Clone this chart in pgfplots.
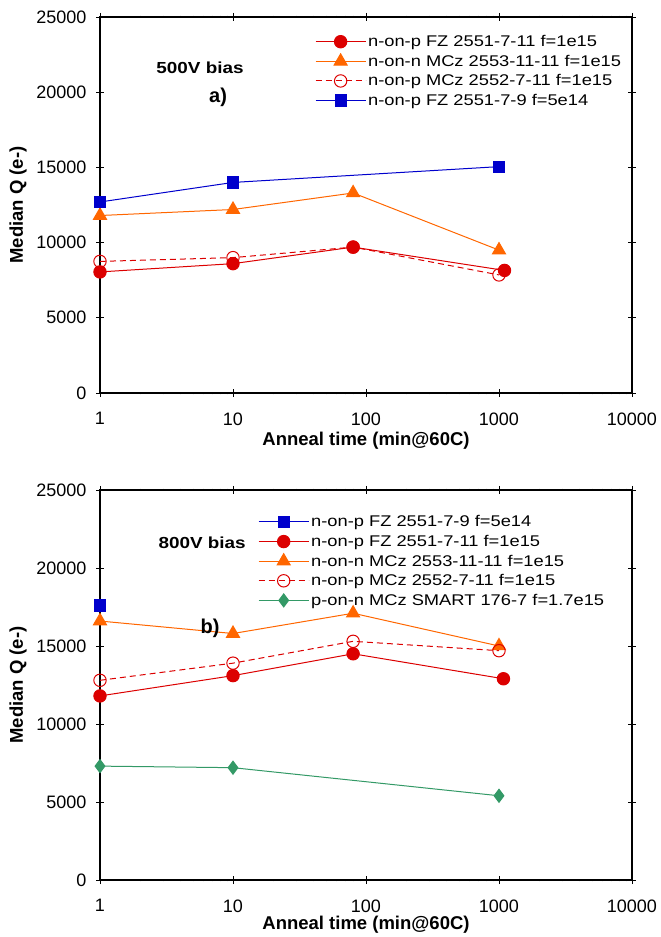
\documentclass[border=0pt]{standalone}
\usepackage{fontspec}
\setmainfont{Liberation Sans}
\newfontfamily\legfont{Liberation Sans}[FakeStretch=1.18]
\usepackage{pgfplots}
\pgfplotsset{compat=1.18}

\definecolor{cred}{RGB}{220,0,0}
\definecolor{corange}{RGB}{255,102,0}
\definecolor{cblue}{RGB}{0,0,204}
\definecolor{cgreen}{RGB}{51,153,102}

\pgfplotsset{
  legend image code/.code={%
    \draw[mark repeat=2,mark phase=2,#1] plot coordinates {(0pt,0pt)(25pt,0pt)(50pt,0pt)};},
  sred/.style={cred, line width=1pt, mark=*, mark size=6.2pt, mark options={solid, fill=cred}},
  sorange/.style={corange, line width=1pt, mark=triangle*, mark size=7.5pt, mark options={solid, fill=corange}},
  sdash/.style={cred, line width=1pt, dash pattern=on 6pt off 4pt, mark=o, mark size=6.2pt, mark options={solid, fill=white}},
  sblue/.style={cblue, line width=1pt, mark=square*, mark size=5.6pt, mark options={solid, fill=cblue}},
  sgreen/.style={cgreen, line width=1pt, mark=diamond*, mark size=6.5pt, mark options={solid, fill=cgreen}},
}

\begin{document}
\begin{tikzpicture}
\useasboundingbox (0,0) rectangle (661pt,937pt);

% a) 500V bias
\begin{axis}[
  scale only axis, width=532pt, height=376pt, at={(100pt,544pt)}, anchor=south west,
  xmode=log, xmin=1, xmax=10000, ymin=0, ymax=25000,
  xtick={1,10,100,1000,10000}, xticklabels={1,10,100,1000,10000},
  ytick={0,5000,10000,15000,20000,25000},
  scaled y ticks=false,
  /pgf/number format/assume math mode=true,
  yticklabel style={/pgf/number format/1000 sep={}},
  xticklabel shift=12pt, yticklabel shift=6pt,
  tick align=center, major tick length=8pt,
  tick style={black, line width=0.7pt},
  axis line style={line width=1.4pt},
  ticklabel style={font=\fontsize{18}{21}\selectfont},
  xlabel style={font=\fontsize{18.5}{22}\selectfont\bfseries,
    at={(axis description cs:0.5,-0.128)}, anchor=center},
  ylabel style={font=\fontsize{18.5}{22}\selectfont\bfseries,
    at={(axis description cs:-0.154,0.5)}, anchor=center},
  xlabel={Anneal time (min@60C)}, ylabel={Median Q (e-)},
  legend cell align=left,
  legend style={draw=none, fill=none, font=\legfont\fontsize{15.5}{18}\selectfont,
    anchor=north west, row sep=2.9pt, inner sep=0pt, at={(0.404,0.957)}},
  ]
  \addplot[sred] coordinates {(1,8050)(10,8600)(80,9700)(1100,8150)};
  \addplot[sorange] coordinates {(1,11800)(10,12200)(80,13300)(1000,9500)};
  \addplot[sdash] coordinates {(1,8750)(10,9000)(80,9700)(1000,7850)};
  \addplot[sblue] coordinates {(1,12700)(10,14000)(1000,15050)};
  \legend{n-on-p FZ 2551-7-11 f=1e15, n-on-n MCz 2553-11-11 f=1e15,
    n-on-p MCz 2552-7-11 f=1e15, n-on-p FZ 2551-7-9 f=5e14}
  \node[font=\legfont\fontsize{16}{19}\selectfont\bfseries] at (rel axis cs:0.188,0.864) {500V bias};
  \node[font=\fontsize{20}{24}\selectfont\bfseries] at (rel axis cs:0.222,0.787) {a)};
\end{axis}

% b) 800V bias
\begin{axis}[
  scale only axis, width=532pt, height=390pt, at={(100pt,57pt)}, anchor=south west,
  xmode=log, xmin=1, xmax=10000, ymin=0, ymax=25000,
  xtick={1,10,100,1000,10000}, xticklabels={1,10,100,1000,10000},
  ytick={0,5000,10000,15000,20000,25000},
  scaled y ticks=false,
  /pgf/number format/assume math mode=true,
  yticklabel style={/pgf/number format/1000 sep={}},
  xticklabel shift=12pt, yticklabel shift=6pt,
  tick align=center, major tick length=8pt,
  tick style={black, line width=0.7pt},
  axis line style={line width=1.4pt},
  ticklabel style={font=\fontsize{18}{21}\selectfont},
  xlabel style={font=\fontsize{18.5}{22}\selectfont\bfseries,
    at={(axis description cs:0.5,-0.115)}, anchor=center},
  ylabel style={font=\fontsize{18.5}{22}\selectfont\bfseries,
    at={(axis description cs:-0.154,0.5)}, anchor=center},
  xlabel={Anneal time (min@60C)}, ylabel={Median Q (e-)},
  legend cell align=left,
  legend style={draw=none, fill=none, font=\legfont\fontsize{15.5}{18}\selectfont,
    anchor=north west, row sep=2.9pt, inner sep=0pt, at={(0.297,0.94)}},
  ]
  \addplot[sblue] coordinates {(1,17600)};
  \addplot[sred] coordinates {(1,11800)(10,13100)(80,14500)(1080,12900)};
  \addplot[sorange] coordinates {(1,16600)(10,15800)(80,17100)(1000,15000)};
  \addplot[sdash] coordinates {(1,12800)(10,13900)(80,15300)(1000,14700)};
  \addplot[sgreen] coordinates {(1,7300)(10,7200)(1000,5400)};
  \legend{n-on-p FZ 2551-7-9 f=5e14, n-on-p FZ 2551-7-11 f=1e15,
    n-on-n MCz 2553-11-11 f=1e15, n-on-p MCz 2552-7-11 f=1e15,
    p-on-n MCz SMART 176-7 f=1.7e15}
  \node[font=\legfont\fontsize{16}{19}\selectfont\bfseries] at (rel axis cs:0.192,0.864) {800V bias};
  \node[font=\fontsize{20}{24}\selectfont\bfseries] at (rel axis cs:0.207,0.646) {b)};
\end{axis}
\end{tikzpicture}
\end{document}
